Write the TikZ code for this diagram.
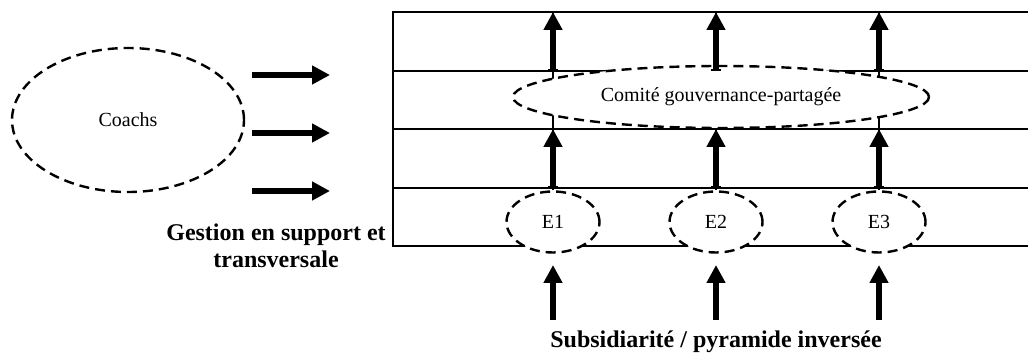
\documentclass[tikz,border=0pt]{standalone}
\usepackage{fontspec}
\setmainfont{Liberation Serif}
\usetikzlibrary{arrows.meta, shapes.geometric}

\begin{document}
\begin{tikzpicture}[x=1pt, y=1pt,
  rowline/.style={black, line width=1.4pt},
  thinline/.style={black, line width=1.4pt},
  dashell/.style={ellipse, draw=black, fill=white, line width=2.4pt,
    dash pattern=on 10pt off 6pt, inner sep=0pt,
    font=\fontsize{20}{24}\selectfont},
  bigarrow/.style={black, line width=5.5pt, -{Triangle[length=18pt, width=18pt]}},
  bararrow/.style={black, line width=5.5pt,
    {Bar[width=10pt, line width=1.5pt]}-{Triangle[length=18pt, width=18pt]}},
  bigtext/.style={font=\fontsize{24}{27}\selectfont\bfseries, align=center}
]

% Frame
\useasboundingbox (0,0) rectangle (1028,356);

% Rows of the table
\foreach \y [count=\i] in {344,285,227,168,110}
  \coordinate (row\i) at (393,\y);
\draw[rowline] (1028,344) -- (row1) -- (row5) -- (1028,110);
\foreach \y in {285,227,168}
  \draw[rowline] (393,\y) -- (1028,\y);

% Teams
\node[dashell, minimum width=93pt, minimum height=61pt] (E1) at (553,134) {E1};
\node[dashell, minimum width=93pt, minimum height=61pt] (E2) at (716,134) {E2};
\node[dashell, minimum width=93pt, minimum height=61pt] (E3) at (879,134) {E3};

% Thin links up through the committee
\foreach \i in {1,2,3}
  \draw[thinline] (E\i.north) -- (E\i |- row1);

% Committee
\node[dashell, minimum width=416pt, minimum height=62pt] (comite) at (721,259)
  {Comité gouvernance-partagée};

% Upward arrows
\coordinate (foot) at (0,36);
\coordinate (head) at (0,91);
\foreach \i in {1,2,3} {
  \draw[bararrow] (E\i |- row2) -- (E\i |- row1);
  \draw[bararrow] (E\i |- row4) -- (E\i |- row3);
  \draw[bigarrow] (E\i |- foot) -- (E\i |- head);
}

% Coachs and support arrows
\node[dashell, minimum width=232pt, minimum height=144pt] (coachs) at (128,236) {Coachs};
\foreach \y [count=\i] in {281,223,165} {
  \coordinate (lft\i) at (252,\y);
  \draw[bigarrow] (lft\i) -- ++(78,0);
}

% Labels
\node[bigtext] (gestion) at (276,110) {Gestion en support et\\transversale};
\node[bigtext, anchor=base] (subsid) at (716,8) {Subsidiarité / pyramide inversée};

\end{tikzpicture}
\end{document}
